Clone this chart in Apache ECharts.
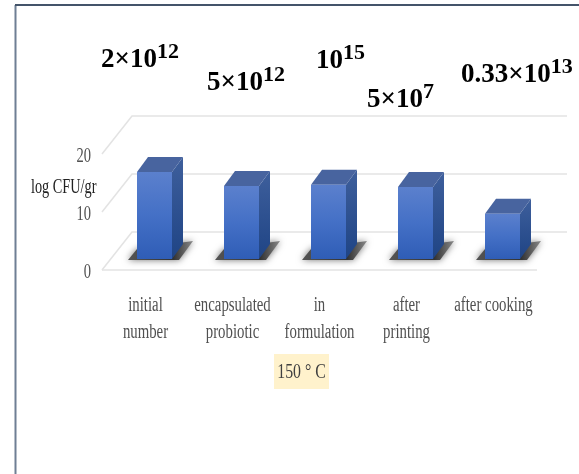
<!DOCTYPE html>
<html><head><meta charset="utf-8">
<style>html,body{margin:0;padding:0;background:#fff}#c{width:579px;height:474px;filter:blur(.45px)}</style>
<script src="https://cdn.jsdelivr.net/npm/echarts@6/dist/echarts.min.js"></script>
</head><body><div id="c"></div>
<script>
const categories = ['initial\nnumber','encapsulated\nprobiotic','in\nformulation','after\nprinting','after cooking'];
const logCfu = [15, 12.6, 12.8, 12.4, 7.8];
const yTicks = [0, 10, 20];
const countBases = ['2×10','5×10','10','5×10','0.33×10'];
const countExps = ['12','12','15','7','13'];
const yName = 'log CFU/gr';
const tempLabel = '150 ° C';

const SERIF = '"Liberation Serif","Times New Roman",serif';
const G = echarts.graphic;
const chart = echarts.init(document.getElementById('c'), null, {renderer:'canvas'});

const countPos = [[101,60],[207,83],[316,61],[367,100],[461,75]];
const countGraphics = countBases.map((b,i)=>({
  type:'text', x:countPos[i][0], y:countPos[i][1], z:20,
  style:{
    text:'{b|'+b+'}{s|'+countExps[i]+'}',
    rich:{
      b:{font:'bold 27px '+SERIF, fill:'#000'},
      s:{font:'bold 22px '+SERIF, fill:'#000', padding:[0,0,15,0]}
    },
    verticalAlign:'middle'
  }
}));

function renderWall(params, api){
  const v = api.value(0);
  const p = api.coord([0, v]);
  const x0 = p[0]-api.size([1,0])[0]/2, y = p[1], dx=30, dy=-38;
  const width = api.size([1,0])[0]*5;
  const st = {stroke:'#e3e3e3', lineWidth:1.5, fill:null};
  const kids = [
    {type:'polyline', shape:{points:[[x0,y],[x0+dx,y+dy],[x0+dx+width,y+dy]]}, style:st},
    {type:'text', x:x0-11, y:y+2, scaleX:.66, originX:0,
     style:{text:String(v), font:'22px '+SERIF, fill:'#505050', align:'right', verticalAlign:'middle'}}
  ];
  if (v===0) kids.push({type:'line', shape:{x1:x0,y1:y,x2:x0+width,y2:y}, style:st});
  return {type:'group', silent:true, children:kids};
}

function renderBar(params, api){
  const c = api.coord([api.value(0), 0]);
  const h = api.size([0, api.value(1)])[1];
  const w = 35, dx = 11, dy = 15;
  const x0 = c[0]+9-w/2, x1 = x0+w, yb = c[1]-11, yt = yb-h;
  return {type:'group', children:[
    {type:'polygon', shape:{points:[[x0-9,yb+1],[x0,yb-10],[x1+dx+10,yb-dy-3],[x1+7,yb+1]]},
     style:{fill:new G.LinearGradient(0,0,1,0,[{offset:0,color:'#555'},{offset:.7,color:'#333'},{offset:1,color:'#888'}]),
            shadowBlur:7, shadowColor:'rgba(80,80,80,.8)'}},
    {type:'polygon', shape:{points:[[x1,yt],[x1+dx,yt-dy],[x1+dx,yb-dy],[x1,yb]]},
     style:{fill:new G.LinearGradient(0,0,0,1,[{offset:0,color:'#3e5f9c'},{offset:1,color:'#1f4485'}])}},
    {type:'polygon', shape:{points:[[x0,yt],[x0+dx,yt-dy],[x1+dx,yt-dy],[x1,yt]]},
     style:{fill:'#48649f'}},
    {type:'rect', shape:{x:x0,y:yt,width:w,height:h},
     style:{fill:new G.LinearGradient(0,0,0,1,[{offset:0,color:'#5b80cd'},{offset:.5,color:'#4470c6'},{offset:1,color:'#2f5db6'}])}}
  ]};
}

function renderCategory(params, api){
  const i = api.value(0);
  const c = api.coord([i, 0]);
  return {type:'text', x:c[0], y:c[1]+22, scaleX:.74, originX:0, silent:true,
    style:{text:categories[i], font:'20px '+SERIF, lineHeight:27, fill:'#505050', align:'center', verticalAlign:'top'}};
}

chart.setOption({
  animation:false,
  backgroundColor:'#fff',
  grid:{left:102,right:42,top:154,bottom:204,containLabel:false},
  xAxis:{type:'category',data:categories,
    axisLine:{show:false},axisTick:{show:false},splitLine:{show:false},axisLabel:{show:false}},
  yAxis:{type:'value',min:0,max:20,interval:10,
    axisLine:{show:false},axisTick:{show:false},splitLine:{show:false},axisLabel:{show:false}},
  series:[
    {type:'custom',name:'grid',renderItem:renderWall,data:yTicks.map(v=>[v]),encode:{y:0},silent:true,z:1},
    {type:'custom',name:'labels',renderItem:renderCategory,data:categories.map((c,i)=>[i]),encode:{x:0},silent:true,z:2},
    {type:'custom',name:yName,renderItem:renderBar,data:logCfu.map((v,i)=>[i,v]),encode:{x:0,y:1},z:3}
  ],
  graphic:[
    {type:'line',shape:{x1:15.5,y1:474,x2:15.5,y2:5},style:{stroke:'#6f7f94',lineWidth:2},z:0},
    {type:'line',shape:{x1:15,y1:5,x2:579,y2:5},style:{stroke:'#44546a',lineWidth:2},z:0},
    ...countGraphics,
    {type:'text',x:31,y:187,scaleX:.68,style:{text:yName,font:'21px '+SERIF,fill:'#222',verticalAlign:'middle'},z:20},
    {type:'rect',shape:{x:274,y:354,width:55,height:35},style:{fill:'#fff2cc'},z:10},
    {type:'text',x:301.5,y:372,scaleX:.72,originX:0,style:{text:tempLabel,font:'22px '+SERIF,fill:'#404040',align:'center',verticalAlign:'middle'},z:20}
  ]
});
</script></body></html>
